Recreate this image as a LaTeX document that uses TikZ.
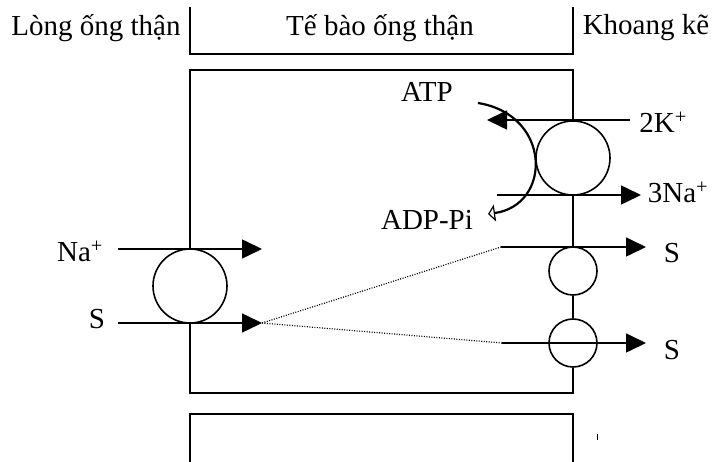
\documentclass[tikz,border=0pt]{standalone}
\usepackage{fontspec}
\setmainfont{Liberation Serif}
\usetikzlibrary{positioning,arrows.meta}

\begin{document}
\begin{tikzpicture}[x=1pt,y=-1pt,
  memb/.style={line width=1.8pt},
  flux/.style={line width=1.6pt,-{Triangle[length=20pt,width=19pt]}},
  pore/.style={draw,circle,line width=1.6pt,inner sep=0pt},
  lbl/.style={inner sep=0pt,font=\fontsize{29}{34}\selectfont}]
\useasboundingbox (0,0) rectangle (713,462);
% top labels and boxes
\node[lbl] (lumen) at (96,28){Lòng ống thận};
\node[lbl] (cell) at (380,28){Tế bào ống thận};
\node[lbl] (inter) at (646,28){Khoang kẽ};
\draw[memb] (190,7) -- (190,54) -- (573,54) -- (573,7);
\draw[memb] (190,462) -- (190,414) -- (573,414) -- (573,462);
\draw[line width=1pt] (597,434) -- (597,440);
% carriers
\node[pore,minimum size=74pt] (lc) at (190,286){};
\node[pore,minimum size=74pt] (pump) at (573,158){};
\node[pore,minimum size=48pt] (c1) at (573,271){};
\node[pore,minimum size=48pt] (c2) at (573,343){};
\coordinate (tl) at (190,70);\coordinate (tr) at (573,70);
\coordinate (bl) at (190,393);\coordinate (br) at (573,393);
\draw[memb] (lc.north) -- (tl) -- (tr) -- (pump.north);
\draw[memb] (pump.south) -- (c1.north);
\draw[memb] (c1.south) -- (c2.north);
\draw[memb] (c2.south) -- (br) -- (bl) -- (lc.south);
% ion labels
\node[lbl] (na) at (80,251){Na\textsuperscript{+}};
\node[lbl] (sl) at (97,319){S};
\node[lbl] (k) at (663,122){2K\textsuperscript{+}};
\node[lbl] (nak) at (678,192){3Na\textsuperscript{+}};
\node[lbl] (su) at (672,253){S};
\node[lbl] (sv) at (672,350){S};
\node[lbl] (atp) at (427,92){ATP};
\node[lbl] (adp) at (427,220){ADP-Pi};
% fluxes
\coordinate (na0) at (118,249);\coordinate (na1) at (262,249);
\coordinate (s0) at (118,323);\coordinate (sx) at (262,323);
\coordinate (k0) at (630,120);\coordinate (k1) at (487,120);
\coordinate (n0) at (497,195);\coordinate (n1) at (641,195);
\coordinate (u0) at (501,247);\coordinate (u1) at (646,247);
\coordinate (v0) at (502,343);\coordinate (v1) at (646,343);
\draw[flux] (na0) -- (na1);\draw[flux] (s0) -- (sx);
\draw[flux] (k0) -- (k1);\draw[flux] (n0) -- (n1);
\draw[flux] (u0) -- (u1);\draw[flux] (v0) -- (v1);
\draw[line width=1.2pt,dash pattern=on 1pt off 1.5pt] (sx) -- (u0);
\draw[line width=1.2pt,dash pattern=on 1pt off 1.5pt] (sx) -- (v0);
% ATP hydrolysis
\coordinate (atp0) at (478,103);\coordinate (adp1) at (488,214);
\draw[line width=2.2pt,-{Triangle[open,length=7pt,width=17pt,line width=1.2pt]}] (atp0) .. controls (552,115) and (552,205) .. (adp1);
\end{tikzpicture}
\end{document}
